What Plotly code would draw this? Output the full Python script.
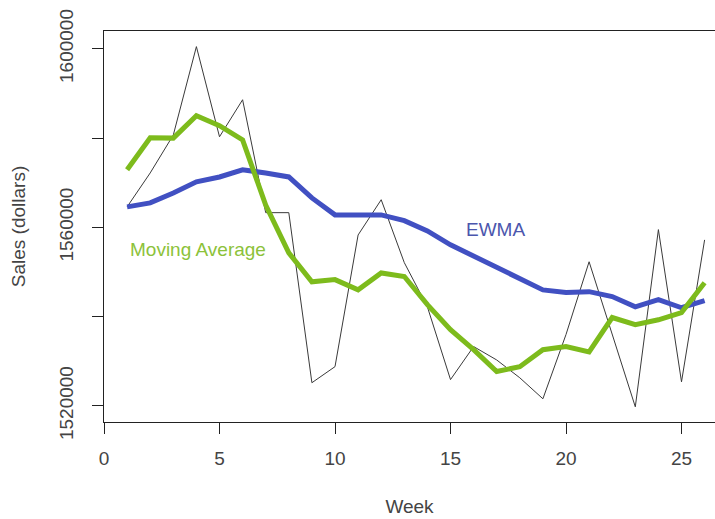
import plotly.graph_objects as go

weeks = list(range(1, 27))
sales = [1564600, 1572200, 1580700, 1600500, 1580300, 1588600, 1563300, 1563300,
         1525200, 1528800, 1558300, 1566200, 1552100, 1542200, 1525900, 1533300,
         1530300, 1526300, 1521600, 1536000, 1552300, 1536000, 1519800, 1559500,
         1525400, 1557200]
moving_avg = [1572900, 1580100, 1580000, 1585000, 1582800, 1579600, 1565000, 1554300,
              1547800, 1548300, 1546000, 1549800, 1549000, 1542700, 1537100, 1532600,
              1527700, 1528800, 1532600, 1533300, 1532100, 1539800, 1538200, 1539300,
              1540900, 1547600]
ewma = [1564600, 1565500, 1567700, 1570200, 1571300, 1572900, 1572200, 1571300,
        1566600, 1562800, 1562800, 1562800, 1561500, 1559200, 1556100, 1553600,
        1551000, 1548300, 1546000, 1545400, 1545600, 1544500, 1542200, 1543800,
        1542000, 1543600]
y_ticks = [1520000, 1540000, 1560000, 1580000, 1600000]
y_tick_text = ["1520000", "", "1560000", "", "1600000"]
x_ticks = [0, 5, 10, 15, 20, 25]

FONT = "Liberation Sans, Arial, sans-serif"
fig = go.Figure()
fig.add_trace(go.Scatter(x=weeks, y=sales, mode="lines",
                         line=dict(color="#3a3a3a", width=1), name="Sales"))
fig.add_trace(go.Scatter(x=weeks, y=ewma, mode="lines",
                         line=dict(color="#4150c2", width=5), name="EWMA"))
fig.add_trace(go.Scatter(x=weeks, y=moving_avg, mode="lines",
                         line=dict(color="#7dbb1c", width=5), name="Moving Average"))

fig.add_annotation(x=16.93, y=1559500, text="EWMA", showarrow=False,
                   font=dict(family=FONT, size=19, color="#4b56ad"))
fig.add_annotation(x=4.05, y=1555000, text="Moving Average", showarrow=False,
                   font=dict(family=FONT, size=19, color="#8cc23a"))

fig.update_layout(
    width=715, height=519,
    margin=dict(l=104, r=0, t=31, b=97),
    paper_bgcolor="white", plot_bgcolor="white",
    showlegend=False,
    font=dict(family=FONT, size=19, color="#444"),
    xaxis=dict(range=[0, 26.45], tickvals=x_ticks, ticks="outside", ticklen=11,
               tickcolor="#222", showline=True, linecolor="#222", linewidth=1,
               mirror=True, showgrid=False, zeroline=False, automargin=False,
               ticklabelstandoff=8,
               title=dict(text="Week", standoff=31, font=dict(size=19))),
    yaxis=dict(range=[1516400, 1604000], tickvals=y_ticks, ticktext=y_tick_text,
               tickangle=-90, ticks="outside", ticklen=11, tickcolor="#222",
               showline=True, linecolor="#222", linewidth=1, showgrid=False,
               zeroline=False, ticklabelstandoff=11, automargin=False,
               title=dict(text="Sales (dollars)", standoff=25, font=dict(size=19))),
)
fig.write_html("out.html", config={"displayModeBar": False},
               post_script="document.body.style.margin='0';")
